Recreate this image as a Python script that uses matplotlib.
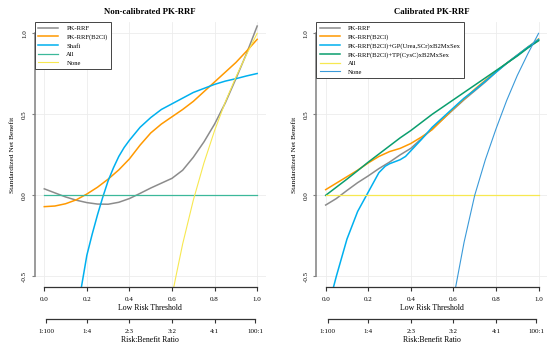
import matplotlib.pyplot as plt

plt.rcParams['font.family'] = ['Liberation Serif', 'DejaVu Serif']

# ---- left panel data (non-calibrated) ----
thr = [0.0, 0.05, 0.10, 0.15, 0.20, 0.25, 0.30, 0.35, 0.40, 0.45, 0.50,
       0.55, 0.60, 0.65, 0.70, 0.75, 0.80, 0.85, 0.90, 0.95, 1.0]

nc_pkrrf = [0.04, 0.015, -0.01, -0.03, -0.045, -0.054, -0.055, -0.043, -0.02, 0.012, 0.045,
            0.075, 0.105, 0.155, 0.235, 0.33, 0.44, 0.57, 0.72, 0.875, 1.045]
nc_b2cl = [-0.07, -0.066, -0.052, -0.028, 0.008, 0.05, 0.10, 0.157, 0.225, 0.31, 0.385,
           0.44, 0.485, 0.53, 0.58, 0.64, 0.70, 0.76, 0.82, 0.89, 0.963]

shafi_thr = [0.17, 0.20, 0.225, 0.25, 0.275, 0.30, 0.325, 0.35, 0.375, 0.40, 0.45, 0.50,
             0.55, 0.60, 0.65, 0.70, 0.75, 0.80, 0.85, 0.90, 0.95, 1.0]
shafi = [-0.60, -0.37, -0.24, -0.12, -0.01, 0.09, 0.17, 0.24, 0.295, 0.34, 0.42, 0.48,
         0.53, 0.565, 0.60, 0.635, 0.66, 0.685, 0.705, 0.72, 0.737, 0.752]

none_thr_l = [0.60, 0.62, 0.65, 0.70, 0.75, 0.80, 0.85, 0.90, 0.95, 1.0]
none_l = [-0.62, -0.49, -0.30, -0.03, 0.20, 0.40, 0.575, 0.73, 0.87, 1.0]

# ---- right panel data (calibrated) ----
c_pkrrf = [-0.06, -0.02, 0.03, 0.078, 0.12, 0.165, 0.205, 0.25, 0.29, 0.35, 0.41,
           0.47, 0.53, 0.59, 0.645, 0.70, 0.76, 0.815, 0.865, 0.915, 0.955]
c_b2cl = [0.035, 0.075, 0.115, 0.155, 0.20, 0.24, 0.27, 0.29, 0.32, 0.36, 0.405,
          0.47, 0.535, 0.595, 0.655, 0.71, 0.765, 0.815, 0.865, 0.915, 0.965]
c_green = [0.0, 0.05, 0.10, 0.152, 0.205, 0.255, 0.305, 0.355, 0.40, 0.45, 0.50,
           0.545, 0.59, 0.635, 0.68, 0.725, 0.77, 0.815, 0.86, 0.91, 0.955]

gp_thr = [0.03, 0.05, 0.10, 0.15, 0.20, 0.25, 0.28, 0.30, 0.35, 0.375, 0.40, 0.45,
          0.50, 0.55, 0.60, 0.65, 0.70, 0.75, 0.80, 0.85, 0.90, 0.95, 1.0]
c_gp = [-0.60, -0.50, -0.27, -0.10, 0.02, 0.14, 0.18, 0.195, 0.22, 0.24, 0.275, 0.345,
        0.42, 0.48, 0.54, 0.60, 0.65, 0.705, 0.76, 0.815, 0.865, 0.915, 0.962]

none_thr_r = [0.60, 0.61, 0.62, 0.65, 0.70, 0.75, 0.80, 0.85, 0.90, 0.95, 1.0]
none_r = [-0.64, -0.57, -0.50, -0.29, 0.0, 0.22, 0.41, 0.585, 0.74, 0.875, 1.0]

rb_pos = [0.01, 0.2, 0.4, 0.6, 0.8, 0.99]
rb_labels = ['1:100', '1:4', '2:3', '3:2', '4:1', '100:1']

GRAY = '#8c8c8c'
ORANGE = '#ff9900'
CYAN = '#00b0ef'
TEAL = '#3cb89a'
GREEN = '#0a9e6e'
YELLOW = '#f7e850'
BLUE = '#3a9ad9'

fig = plt.figure(figsize=(5.5, 3.48), dpi=100)
ax1 = fig.add_axes([34.7 / 550, 61 / 348, 231 / 550, 265 / 348])
ax2 = fig.add_axes([316.1 / 550, 61 / 348, 231 / 550, 265 / 348])


def style(ax, title):
    ax.set_xlim(-0.045, 1.04)
    ax.set_ylim(-0.566, 1.07)
    ax.grid(True, color='#ececec', lw=0.6)
    ax.set_axisbelow(True)
    for s in ['top', 'right']:
        ax.spines[s].set_visible(False)
    ax.spines['left'].set_bounds(-0.5, 1.0)
    ax.spines['left'].set_color('#808080')
    ax.spines['left'].set_linewidth(1.1)
    ax.spines['bottom'].set_bounds(0, 1)
    ax.spines['bottom'].set_color('#333333')
    ax.spines['bottom'].set_linewidth(0.9)
    ax.set_xticks([0, 0.2, 0.4, 0.6, 0.8, 1.0])
    ax.set_xticklabels(['0.0', '0.2', '0.4', '0.6', '0.8', '1.0'])
    ax.set_yticks([-0.5, 0, 0.5, 1.0])
    ax.set_yticklabels(['-0.5', '0.0', '0.5', '1.0'], rotation=90, va='center')
    ax.tick_params(axis='x', length=3, width=0.8, labelsize=5, pad=4, color='#333333')
    ax.tick_params(axis='y', length=2.5, width=0.8, labelsize=5, pad=3, color='#808080')
    ax.set_xlabel('Low Risk Threshold', fontsize=5.6, labelpad=1.5)
    ax.set_ylabel('Standardized Net Benefit', fontsize=5.4, labelpad=5)
    ax.set_title(title, fontsize=6.3, fontweight='bold', pad=6)

    sec = ax.secondary_xaxis(-0.12)
    sec.set_xticks(rb_pos)
    sec.set_xticklabels(rb_labels)
    sec.spines['bottom'].set_bounds(0.01, 0.99)
    sec.spines['bottom'].set_color('#333333')
    sec.spines['bottom'].set_linewidth(0.9)
    sec.tick_params(length=3, width=0.8, labelsize=5, pad=4, color='#333333')
    sec.set_xlabel('Risk:Benefit Ratio', fontsize=5.6, labelpad=1.5)


style(ax1, 'Non-calibrated PK-RRF')
ax1.plot(thr, nc_pkrrf, color=GRAY, lw=1.1, label='PK-RRF')
ax1.plot(thr, nc_b2cl, color=ORANGE, lw=1.1, label='PK-RRF(B2Cl)')
ax1.plot(shafi_thr, shafi, color=CYAN, lw=1.1, label='Shafi')
ax1.plot([0, 1], [0, 0], color=TEAL, lw=0.9, label='All')
ax1.plot(none_thr_l, none_l, color=YELLOW, lw=0.8, label='None')

style(ax2, 'Calibrated PK-RRF')
ax2.plot(thr, c_pkrrf, color=GRAY, lw=1.1, label='PK-RRF')
ax2.plot(thr, c_b2cl, color=ORANGE, lw=1.1, label='PK-RRF(B2Cl)')
ax2.plot(gp_thr, c_gp, color=CYAN, lw=1.1, label='PK-RRF(B2Cl)+GP(Urea,SCr)xB2MxSex')
ax2.plot(thr, c_green, color=GREEN, lw=1.1, label='PK-RRF(B2Cl)+TP(CysC)xB2MxSex')
ax2.plot([0, 1], [0, 0], color=YELLOW, lw=0.9, label='All')
ax2.plot(none_thr_r, none_r, color=BLUE, lw=0.8, label='None')

for ax in (ax1, ax2):
    leg = ax.legend(loc='upper left', bbox_to_anchor=(0.0, 1.0), fontsize=4.8,
                    frameon=True, fancybox=False, borderaxespad=0,
                    handlelength=3.0, handletextpad=1.2, labelspacing=0.42,
                    borderpad=0.55)
    leg.get_frame().set_edgecolor('#444444')
    leg.get_frame().set_linewidth(0.7)
    leg.get_frame().set_alpha(1)

fig.savefig('out.png', dpi=100)
